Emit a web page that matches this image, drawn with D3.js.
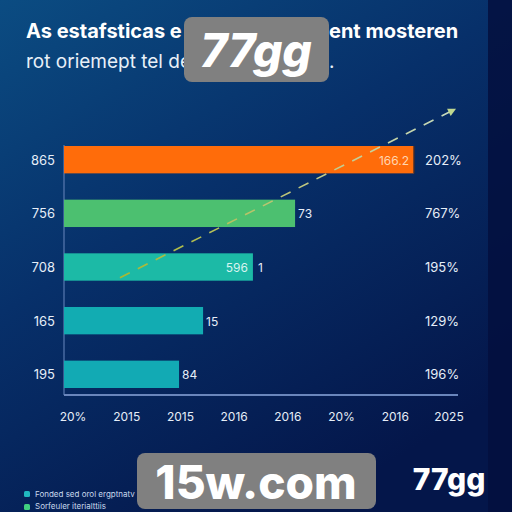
<!DOCTYPE html>
<html><head><meta charset="utf-8">
<script src="https://cdn.jsdelivr.net/npm/d3@7"></script>
<style>html,body{margin:0;padding:0;background:#061a4a;}svg{display:block;}</style>
</head><body>
<script>
const categories = ["865", "756", "708", "165", "195"];
const values = [177.7, 117.3, 95.9, 70.6, 58.4];
const valueLabels = ["166.2", "73", "596", "15", "84"];
const rightLabels = ["202%", "767%", "195%", "129%", "196%"];
const xTicks = ["20%", "2015", "2015", "2016", "2016", "20%", "2016", "2025"];
const barColors = ["#ff6c0a", "#4cc070", "#1cbaa6", "#12acb2", "#12aab4"];
const trendX = [28.4, 199];   // value-axis positions of the trend arrow
const trendY = [2.2, -0.95];  // category-index positions of the trend arrow

const W = 512, H = 512;
const svg = d3.select("body").append("svg").attr("width", W).attr("height", H);
const defs = svg.append("defs");
const bg = defs.append("linearGradient").attr("id", "bg").attr("x1", 0).attr("y1", 0).attr("x2", 0.6).attr("y2", 1);
bg.append("stop").attr("offset", 0).attr("stop-color", "#0b4c82");
bg.append("stop").attr("offset", 0.45).attr("stop-color", "#07306a");
bg.append("stop").attr("offset", 1).attr("stop-color", "#04164a");
svg.append("rect").attr("width", W).attr("height", H).attr("fill", "url(#bg)");
svg.append("rect").attr("x", 488).attr("width", 24).attr("height", H).attr("fill", "#040f3e").attr("opacity", 0.85);

const x = d3.scaleLinear().domain([0, 200]).range([64, 458]);
const yb = d3.scaleBand().domain(d3.range(categories.length)).range([146, 388]).paddingInner(0.49);
const yc = d3.scaleLinear().domain([0, categories.length - 1])
  .range([yb(0) + yb.bandwidth() / 2, yb(categories.length - 1) + yb.bandwidth() / 2]);
const xp = d3.scalePoint().domain(d3.range(xTicks.length)).range([73, 449]);

const p0 = [x(trendX[0]), yc(trendY[0])], p1 = [x(trendX[1]), yc(trendY[1])];
const tg = defs.append("linearGradient").attr("id", "tg").attr("gradientUnits", "userSpaceOnUse")
  .attr("x1", p0[0]).attr("y1", p0[1]).attr("x2", p1[0]).attr("y2", p1[1]);
tg.append("stop").attr("offset", 0).attr("stop-color", "#a8b830");
tg.append("stop").attr("offset", 0.55).attr("stop-color", "#c0c880");
tg.append("stop").attr("offset", 1).attr("stop-color", "#c8dcc0");

// axes lines
svg.append("line").attr("x1", 64).attr("x2", 64).attr("y1", 145).attr("y2", 395).attr("stroke", "#5a7ab0").attr("stroke-width", 1.2);
svg.append("line").attr("x1", 64).attr("x2", 458).attr("y1", 395).attr("y2", 395).attr("stroke", "#6a86bc").attr("stroke-width", 2);

// bars
svg.selectAll("rect.bar").data(values).join("rect").attr("class", "bar")
  .attr("x", x(0)).attr("y", (d, i) => yb(i)).attr("width", d => x(d) - x(0)).attr("height", yb.bandwidth())
  .attr("fill", (d, i) => barColors[i]);
svg.append("line").attr("x1", x(values[0])).attr("x2", x(values[0])).attr("y1", yb(0)).attr("y2", yb(0) + yb.bandwidth()).attr("stroke", "#3a2a30").attr("stroke-width", 1.5);

// trend dashed line
svg.append("path").attr("d", d3.line()([p0, p1])).attr("stroke", "url(#tg)").attr("stroke-width", 1.6)
  .attr("stroke-dasharray", "11,9").attr("fill", "none");
const ang = Math.atan2(p1[1] - p0[1], p1[0] - p0[0]) * 180 / Math.PI;
svg.append("path").attr("d", "M0,0 L-8,-4 L-8,4 Z").attr("fill", "#c0d890")
  .attr("transform", `translate(${p1[0]},${p1[1]}) rotate(${ang})`);

const font = "Inter, 'Open Sans', sans-serif";
// left labels
svg.selectAll("text.cat").data(categories).join("text").attr("class", "cat")
  .attr("x", 55).attr("y", (d, i) => yb(i) + yb.bandwidth() / 2 + 5).attr("text-anchor", "end")
  .attr("font-family", font).attr("font-size", 13).attr("fill", "#e6eef8").text(d => d);
// right labels
svg.selectAll("text.rl").data(rightLabels).join("text").attr("class", "rl")
  .attr("x", 425).attr("y", (d, i) => yb(i) + yb.bandwidth() / 2 + 5)
  .attr("font-family", font).attr("font-size", 13).attr("fill", "#e6eef8").text(d => d);
// value labels
const inside = [true, false, true, false, false];
svg.selectAll("text.vl").data(values).join("text").attr("class", "vl")
  .attr("x", (d, i) => inside[i] ? x(d) - 5 : x(d) + 3)
  .attr("y", (d, i) => yb(i) + yb.bandwidth() / 2 + 5)
  .attr("text-anchor", (d, i) => inside[i] ? "end" : "start")
  .attr("font-family", font).attr("font-size", 12)
  .attr("fill", (d, i) => i === 0 ? "#ffd6b0" : (i === 2 ? "#d8f4f0" : "#e6eef8"))
  .text((d, i) => valueLabels[i]);
svg.append("text").attr("x", x(values[2]) + 5).attr("y", yb(2) + yb.bandwidth() / 2 + 5)
  .attr("font-family", font).attr("font-size", 12).attr("fill", "#e6eef8").text("1");
// x ticks
svg.selectAll("text.xt").data(xTicks).join("text").attr("class", "xt")
  .attr("x", (d, i) => xp(i)).attr("y", 421).attr("text-anchor", "middle")
  .attr("font-family", font).attr("font-size", 12).attr("fill", "#e6eef8").text(d => d);

// title
svg.append("text").attr("x", 26).attr("y", 38).attr("font-family", font).attr("font-weight", 700)
  .attr("font-size", 20).attr("fill", "#ffffff").text("As estafsticas e");
svg.append("text").attr("x", 329).attr("y", 38).attr("font-family", font).attr("font-weight", 700)
  .attr("font-size", 20).attr("fill", "#ffffff").text("ent mosteren");
svg.append("text").attr("x", 26).attr("y", 68).attr("font-family", font)
  .attr("font-size", 19).attr("fill", "#e8f0f8").text("rot oriemept tel de");
svg.append("text").attr("x", 329).attr("y", 68).attr("font-family", font)
  .attr("font-size", 19).attr("fill", "#e8f0f8").text(".");

// legend
svg.append("rect").attr("x", 24).attr("y", 491).attr("width", 6).attr("height", 6).attr("rx", 1.5).attr("fill", "#20b8c0");
svg.append("text").attr("x", 35).attr("y", 497).attr("font-family", font).attr("font-size", 8).attr("fill", "#c8d8ec").text("Fonded sed orol ergptnatv");
svg.append("rect").attr("x", 24).attr("y", 504).attr("width", 6).attr("height", 6).attr("rx", 1.5).attr("fill", "#40d080");
svg.append("text").attr("x", 35).attr("y", 509).attr("font-family", font).attr("font-size", 8).attr("fill", "#c8d8ec").text("Sorfeuler iterialttiis");

// watermarks
svg.append("rect").attr("x", 184).attr("y", 17).attr("width", 145).attr("height", 65).attr("rx", 8).attr("fill", "#808080");
svg.append("text").attr("x", 256).attr("y", 67).attr("text-anchor", "middle").attr("font-family", font)
  .attr("font-weight", 800).attr("font-size", 46).attr("font-style", "italic").attr("fill", "#ffffff").text("77gg");
svg.append("rect").attr("x", 137).attr("y", 453).attr("width", 239).attr("height", 56).attr("rx", 8).attr("fill", "#808080");
svg.append("text").attr("x", 256).attr("y", 499).attr("text-anchor", "middle").attr("font-family", font)
  .attr("font-weight", 800).attr("font-size", 46).attr("fill", "#ffffff").text("15w.com");
svg.append("text").attr("x", 449).attr("y", 490).attr("text-anchor", "middle").attr("font-family", font)
  .attr("font-weight", 800).attr("font-size", 30).attr("fill", "#ffffff").text("77gg");
</script>
</body></html>
